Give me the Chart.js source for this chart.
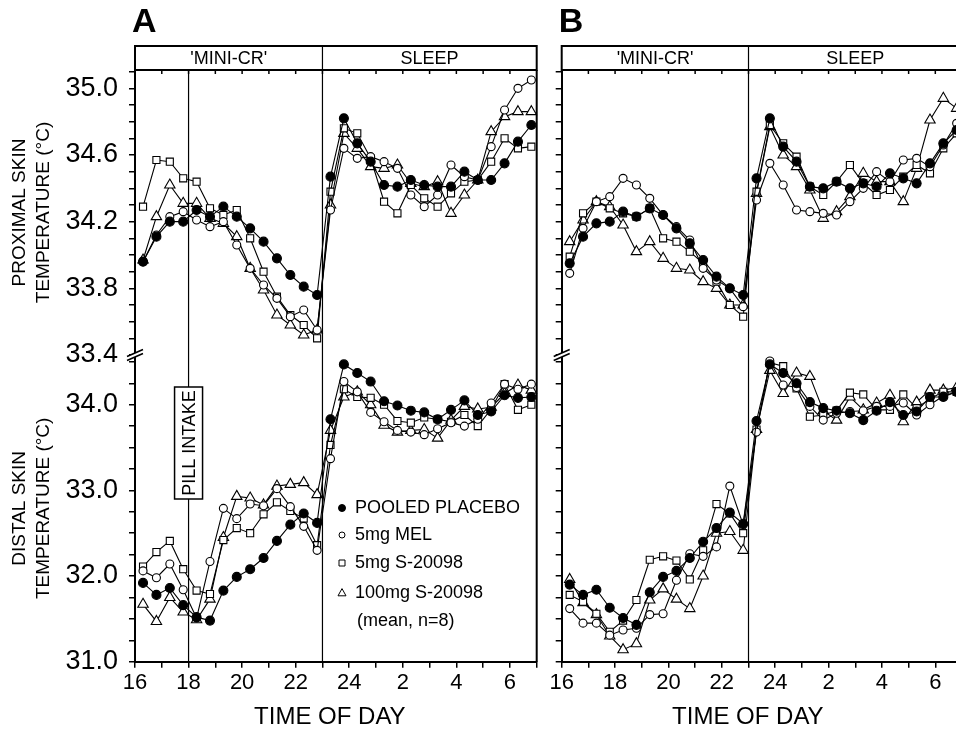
<!DOCTYPE html>
<html><head><meta charset="utf-8">
<script src="https://cdn.jsdelivr.net/npm/chart.js@4.4.1/dist/chart.umd.min.js"></script>
<style>
html,body{margin:0;padding:0;background:#fff;overflow:hidden;width:956px;height:729px;}
#wrap{position:relative;width:956px;height:729px;overflow:hidden;background:#fff;}
canvas{position:absolute;top:0;}
</style></head><body>
<div id="wrap">
<canvas id="cA" width="556" height="729" style="left:0px"></canvas>
<canvas id="cB" width="430" height="729" style="left:540px"></canvas>
</div>
<script>
// ---- data (hour of day, >24 = next morning) ----
const hours = [16.3,16.8,17.3,17.8,18.3,18.8,19.3,19.8,20.3,20.8,21.3,21.8,22.3,22.8,
               23.3,23.8,24.3,24.8,25.3,25.8,26.3,26.8,27.3,27.8,28.3,28.8,29.3,29.8,30.3,30.8];
const seriesNames = ['POOLED PLACEBO','5mg MEL','5mg S-20098','100mg S-20098'];
const headerLabels = ["'MINI-CR'", 'SLEEP'];
const sleepOnset = 23;
const pillTime = 18;

// Panel A – proximal
const aProxPlacebo = [33.96,34.11,34.20,34.20,34.27,34.23,34.29,34.23,34.16,34.08,33.98,33.88,33.81,33.76,
                      34.47,34.82,34.67,34.56,34.42,34.41,34.45,34.42,34.41,34.41,34.50,34.45,34.45,34.55,34.68,34.78];
const aProxMel     = [33.96,34.12,34.23,34.26,34.21,34.17,34.20,34.06,33.92,33.82,33.74,33.63,33.67,33.55,
                      34.27,34.64,34.58,34.59,34.56,34.52,34.36,34.29,34.36,34.54,34.47,34.45,34.65,34.87,35.00,35.05];
const aProxS5      = [34.29,34.57,34.56,34.46,34.44,34.28,34.24,34.27,34.10,33.90,33.75,33.64,33.58,33.50,
                      34.38,34.76,34.73,34.58,34.32,34.25,34.42,34.34,34.29,34.37,34.44,34.45,34.56,34.70,34.64,34.65];
const aProxS100    = [33.97,34.23,34.42,34.31,34.31,34.22,34.19,34.11,33.92,33.79,33.64,33.58,33.52,33.55,
                      34.30,34.73,34.64,34.53,34.52,34.54,34.43,34.41,34.44,34.25,34.36,34.45,34.74,34.83,34.86,34.86];
// Panel A – distal
const aDistPlacebo = [31.92,31.78,31.86,31.66,31.52,31.48,31.83,31.99,32.08,32.21,32.41,32.60,32.73,32.62,
                      33.83,34.47,34.37,34.27,34.04,33.99,33.93,33.91,33.83,33.94,34.05,33.88,33.92,34.11,34.08,34.09];
const aDistMel     = [32.06,31.98,32.14,31.84,31.51,32.17,32.79,32.67,32.84,32.82,33.02,32.81,32.58,32.30,
                      33.37,34.27,34.15,33.91,33.80,33.70,33.68,33.65,33.72,33.79,33.75,33.83,34.02,34.24,34.18,34.24];
const aDistS5      = [32.11,32.28,32.41,32.08,31.83,31.79,32.42,32.56,32.50,32.72,32.86,32.76,32.67,32.36,
                      33.53,34.18,34.09,34.08,34.00,33.81,33.79,33.85,33.83,33.80,33.88,33.75,33.95,34.24,33.94,34.00];
const aDistS100    = [31.67,31.47,31.75,31.58,31.49,31.73,32.45,32.93,32.91,32.83,33.05,33.07,33.09,32.95,
                      33.70,34.09,34.15,34.00,33.76,33.68,33.70,33.71,33.61,33.82,33.98,33.95,33.97,34.13,34.23,34.17];
// Panel B – proximal
const bProxPlacebo = [33.95,34.11,34.19,34.20,34.26,34.23,34.28,34.24,34.16,34.07,33.97,33.87,33.80,33.76,
                      34.46,34.82,34.65,34.56,34.41,34.40,34.44,34.40,34.43,34.41,34.49,34.46,34.43,34.55,34.67,34.75];
const bProxMel     = [33.89,34.16,34.32,34.35,34.46,34.42,34.34,34.24,34.17,34.09,33.92,33.85,33.80,33.69,
                      34.33,34.55,34.42,34.27,34.26,34.25,34.24,34.32,34.40,34.50,34.44,34.57,34.58,34.53,34.66,34.79];
const bProxS5      = [33.99,34.25,34.32,34.28,34.25,34.23,34.28,34.10,34.08,34.02,33.95,33.84,33.70,33.63,
                      34.38,34.78,34.67,34.59,34.41,34.36,34.44,34.54,34.43,34.36,34.39,34.47,34.54,34.49,34.64,34.73];
const bProxS100    = [34.08,34.21,34.32,34.29,34.18,34.02,34.08,33.98,33.92,33.91,33.84,33.80,33.70,33.70,
                      34.37,34.77,34.60,34.53,34.39,34.22,34.26,34.35,34.49,34.44,34.44,34.32,34.52,34.81,34.94,34.88];
// Panel B – distal
const bDistPlacebo = [31.90,31.78,31.84,31.63,31.51,31.43,31.81,31.99,32.06,32.21,32.40,32.56,32.74,32.61,
                      33.81,34.47,34.37,34.25,34.03,33.96,33.93,33.90,33.82,33.93,34.03,33.88,33.92,34.09,34.09,34.15];
const bDistMel     = [31.62,31.45,31.45,31.31,31.37,31.39,31.55,31.56,31.95,32.26,32.23,32.34,33.05,32.60,
                      33.68,34.51,34.23,34.20,33.98,33.82,33.90,33.92,33.93,33.98,33.98,34.02,33.88,34.00,34.10,34.15];
const bDistS5      = [31.78,31.70,31.56,31.35,31.48,31.72,32.19,32.23,32.18,31.96,32.30,32.84,32.73,32.50,
                      33.71,34.49,34.45,34.19,33.86,33.88,33.93,34.14,34.12,33.94,33.94,34.12,33.96,34.07,34.15,34.15];
const bDistS100    = [31.96,31.69,31.55,31.30,31.14,31.21,31.72,31.85,31.73,31.62,32.00,32.50,32.52,32.30,
                      33.71,34.40,34.13,34.37,34.33,33.93,33.82,34.09,33.94,34.02,34.11,33.80,34.03,34.17,34.17,34.20];

// ---- rendering ----
const FONT = '"Liberation Sans", Arial, Helvetica, sans-serif';
const markerStyles = [
  {pointStyle:'circle',   radius:4.5, fill:'#000'},
  {pointStyle:'circle',   radius:4,   fill:'#fff'},
  {pointStyle:'rect',     radius:5,   fill:'#fff'},
  {pointStyle:'triangle', radius:6,   fill:'#fff'}
];

function pts(vals){ return vals.map((v,i)=>({x:hours[i], y:v})); }

function buildDatasets(prox, dist){
  const ds = [];
  const add = (vals, i, axis) => {
    const m = markerStyles[i];
    ds.push({
      label: seriesNames[i], data: pts(vals), yAxisID: axis,
      borderColor:'#000', borderWidth:1.1, backgroundColor:m.fill,
      pointStyle:m.pointStyle, pointRadius:m.radius, pointBackgroundColor:m.fill,
      pointBorderColor:'#000', pointBorderWidth:1.1, tension:0, clip:false
    });
  };
  prox.forEach((v,i)=>add(v,i,'yProx'));
  dist.forEach((v,i)=>add(v,i,'yDist'));
  return ds;
}

function drawMarker(ctx, style, x, y, r){
  ctx.beginPath();
  if (style==='circle'){ ctx.arc(x,y,r,0,Math.PI*2); }
  else if (style==='rect'){ ctx.rect(x-r,y-r,2*r,2*r); }
  else { ctx.moveTo(x, y-r*1.1); ctx.lineTo(x+r, y+r*0.7); ctx.lineTo(x-r, y+r*0.7); ctx.closePath(); }
}

function decor(cfg){
  return {
    id:'decor',
    afterDraw(chart){
      const {ctx, chartArea:ca, scales} = chart;
      const xs = scales.x, yP = scales.yProx;
      const headTop = 46;
      ctx.save();
      ctx.strokeStyle='#000'; ctx.fillStyle='#000';
      // header box and right border
      ctx.lineWidth = 2;
      ctx.strokeRect(ca.left, headTop, ca.right-ca.left, ca.top-headTop);
      ctx.beginPath(); ctx.moveTo(ca.right, ca.top); ctx.lineTo(ca.right, ca.bottom); ctx.stroke();
      // top inner ticks
      ctx.lineWidth = 1.5;
      for (let h=17; h<31; h++){
        const px = xs.getPixelForValue(h);
        ctx.beginPath(); ctx.moveTo(px, ca.top); ctx.lineTo(px, ca.top+4); ctx.stroke();
      }
      // sleep onset divider
      const xso = xs.getPixelForValue(sleepOnset);
      ctx.lineWidth = 1.2;
      ctx.beginPath(); ctx.moveTo(xso, headTop); ctx.lineTo(xso, ca.bottom); ctx.stroke();
      // header labels
      ctx.font = '18px '+FONT; ctx.textAlign='center'; ctx.textBaseline='middle';
      const hy = (headTop+ca.top)/2+1;
      ctx.fillText(headerLabels[0], (ca.left+xso)/2, hy);
      ctx.fillText(headerLabels[1], (xso+ca.right)/2, hy);
      // x axis title
      ctx.font = '24px '+FONT;
      ctx.fillText('TIME OF DAY', (ca.left+ca.right)/2 + cfg.titleShift, 717);
      // panel letter
      ctx.font = 'bold 34px '+FONT; ctx.textAlign='left'; ctx.textBaseline='middle';
      ctx.fillText(cfg.letter, ca.left-3, 23);
      // axis break
      const yb = yP.bottom, xl = ca.left;
      ctx.fillStyle='#fff';
      ctx.beginPath(); ctx.moveTo(xl-7,yb+1); ctx.lineTo(xl+7,yb-5); ctx.lineTo(xl+7,yb-1); ctx.lineTo(xl-7,yb+5); ctx.closePath(); ctx.fill();
      ctx.lineWidth=1.6;
      ctx.beginPath(); ctx.moveTo(xl-8,yb+1.5); ctx.lineTo(xl+8,yb-5.5); ctx.moveTo(xl-8,yb+5.5); ctx.lineTo(xl+8,yb-1.5); ctx.stroke();
      ctx.fillStyle='#000';
      if (cfg.pill){
        const xp = xs.getPixelForValue(pillTime);
        ctx.lineWidth=1.2;
        ctx.beginPath(); ctx.moveTo(xp, ca.top); ctx.lineTo(xp, ca.bottom); ctx.stroke();
        const bx = xp-14, by = 387, bw = 28, bh = 112;
        ctx.fillStyle='#fff'; ctx.fillRect(bx,by,bw,bh);
        ctx.lineWidth=1.5; ctx.strokeRect(bx,by,bw,bh);
        ctx.fillStyle='#000';
        ctx.save(); ctx.translate(xp+1, by+bh/2); ctx.rotate(-Math.PI/2);
        ctx.font='18px '+FONT; ctx.textAlign='center'; ctx.textBaseline='middle';
        ctx.fillText('PILL INTAKE',0,0); ctx.restore();
      }
      if (cfg.legend){
        const rows=[508,535,563,593];
        ctx.font='18px '+FONT; ctx.textAlign='left'; ctx.textBaseline='middle';
        ctx.lineWidth=1;
        const sz=[3.5,3,3,4];
        rows.forEach((ry,i)=>{
          const m = markerStyles[i];
          drawMarker(ctx, m.pointStyle, 342, ry, sz[i]);
          ctx.fillStyle=m.fill; ctx.fill(); ctx.strokeStyle='#000'; ctx.stroke();
          ctx.fillStyle='#000';
          ctx.fillText(seriesNames[i], 355, ry);
        });
        ctx.fillText('(mean, n=8)', 357, 621);
      }
      ctx.restore();
    }
  };
}

function makeChart(id, prox, dist, cfg){
  const labelsOn = cfg.letter==='A';
  const yCommon = {
    type:'linear', position:'left', stack:'panel',
    grid:{drawOnChartArea:false, drawTicks:true, tickLength:6, color:'#000', lineWidth:1.5},
    border:{display:true, color:'#000', width:2},
    afterFit: s => { s.width = cfg.axisW; }
  };
  const yTitle = (lines)=>({display:labelsOn, text:lines, color:'#000',
     font:{size:19, family:FONT, lineHeight:1.25}, padding:{top:8,bottom:0}});
  return new Chart(document.getElementById(id), {
    type:'line',
    data:{datasets: buildDatasets(prox, dist)},
    options:{
      responsive:false, animation:false, devicePixelRatio:1,
      layout:{padding:{top:70, right:cfg.padR, bottom:0, left:0}},
      plugins:{legend:{display:false}, tooltip:{enabled:false}},
      scales:{
        x:{type:'linear', min:16, max:31, position:'bottom',
           afterFit: s => { s.height = 67.3; },
           ticks:{stepSize:1, autoSkip:false, maxRotation:0, includeBounds:false, padding:2,
                  color:'#000', font:{size:22, family:FONT},
                  callback: v => (v%2===0 && v<31) ? String(v>24 ? v-24 : v) : ''},
           grid:{drawOnChartArea:false, drawTicks:true, tickLength:6, color:'#000', lineWidth:1.5},
           border:{display:true, color:'#000', width:2},
           title:{display:false}},
        yProx: Object.assign({}, yCommon, {
           min:33.4, max:35.11, stackWeight:285, weight:2,
           ticks:{stepSize:0.1, includeBounds:false, autoSkip:false, padding:11, color:'#000', font:{size:27, family:FONT},
                  callback: v => { const k=Math.round((v-33.4)*10); return (labelsOn && k%4===0) ? v.toFixed(1) : ''; }},
           title: yTitle(['PROXIMAL SKIN','TEMPERATURE (°C)'])}),
        yDist: Object.assign({}, yCommon, {
           min:31, max:34.58, stackWeight:306.7, weight:1,
           ticks:{stepSize:0.25, includeBounds:false, autoSkip:false, padding:11, color:'#000', font:{size:27, family:FONT},
                  callback: v => (labelsOn && Math.abs(v-Math.round(v))<1e-6) ? v.toFixed(1) : ''},
           title: yTitle(['DISTAL SKIN','TEMPERATURE (°C)'])})
      }
    },
    plugins:[decor(cfg)]
  });
}

makeChart('cA', [aProxPlacebo,aProxMel,aProxS5,aProxS100], [aDistPlacebo,aDistMel,aDistS5,aDistS100],
          {letter:'A', axisW:135, padR:19.3, pill:true, legend:true, titleShift:-6});
makeChart('cB', [bProxPlacebo,bProxMel,bProxS5,bProxS100], [bDistPlacebo,bDistMel,bDistS5,bDistS100],
          {letter:'B', axisW:21.7, padR:8, pill:false, legend:false, titleShift:-14});
</script>
</body></html>
